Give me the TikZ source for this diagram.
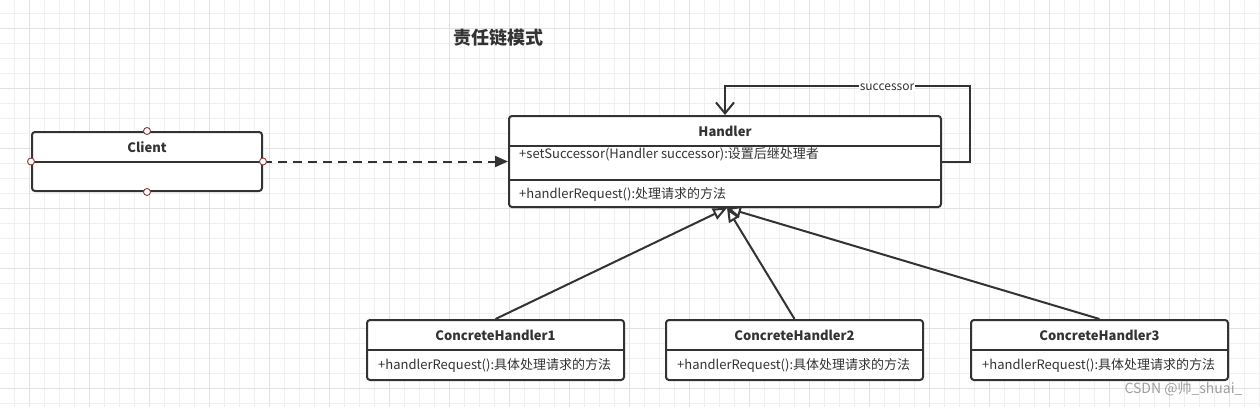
\documentclass[tikz,border=0pt]{standalone}
\usepackage{fontspec}
\setmainfont{Noto Sans CJK SC}
\usetikzlibrary{arrows.meta}
\definecolor{linec}{HTML}{333333}
\definecolor{portc}{HTML}{8B3A3A}
\definecolor{minorc}{HTML}{F0F0F0}
\definecolor{majorc}{HTML}{E2E2E2}

\begin{document}
\begin{tikzpicture}[x = 1pt, y = -1pt,
	box/.style = {draw = linec, line width = 2pt, rounded corners = 3pt, fill = white, inner sep = 0pt},
	title/.style = {text = linec, font = \fontsize{13}{15}\selectfont\bfseries},
	member/.style = {text = linec, font = \fontsize{13}{15}\selectfont, anchor = west, inner sep = 0pt},
	port/.style = {circle, draw = portc, fill = white, line width = 0.9pt, inner sep = 0pt, minimum size = 7pt},
	link/.style = {draw = linec, line width = 2pt}]
	%	grid setup
	
	\def\w{1260}
	\def\h{407}
	\useasboundingbox (0, 0) rectangle (\w, \h);
	\fill[white] (0, 0) rectangle (\w, \h);
	
	%	grid
	\foreach \x in {14.5, 29.5, ..., \w} \draw[minorc, line width = 1pt] (\x, 0) -- (\x, \h);
	\foreach \y in {13.5, 28.5, ..., \h} \draw[minorc, line width = 1pt] (0, \y) -- (\w, \y);
	\foreach \x in {29.5, 89.5, ..., \w} \draw[majorc, line width = 1pt] (\x, 0) -- (\x, \h);
	\foreach \y in {28.5, 88.5, ..., \h} \draw[majorc, line width = 1pt] (0, \y) -- (\w, \y);
	
	\node[text = linec, font = \fontsize{18}{20}\selectfont\bfseries] (pattern) at (498, 38) {责任链模式};
	
	%	client
	\node[box, minimum width = 230, minimum height = 59] (client) at (147, 161.5) {};
	\draw[link] (client.west) -- (client.east);
	\node[title] (clientname) at (147, 147) {Client};
	
	%	handler
	\node[box, minimum width = 432, minimum height = 91] (handler) at (725, 161.5) {};
	\draw[link] (handler.west) ++(0, -15.5) -- ++(432, 0);
	\draw[link] (handler.west) ++(0, 18.5) -- ++(432, 0);
	\node[title] (handlername) at (725, 131) {Handler};
	\node[member] (setsucc) at (519, 154) {+setSuccessor(Handler successor):设置后继处理者};
	\node[member] (handlereq) at (519, 194) {+handlerRequest():处理请求的方法};
	
	%	concrete handlers
	\foreach \i/\cx in {1/495.5, 2/794.5, 3/1099.5}{
		\node[box, minimum width = 257, minimum height = 60] (ch\i) at (\cx, 350) {};
		\draw[link] (ch\i.west) -- (ch\i.east);
		\node[title] (chname\i) at (\cx, 335) {ConcreteHandler\i};
		\node[member] (chreq\i) at (\cx - 117.5, 365) {+handlerRequest():具体处理请求的方法};
		\draw[link, -{Triangle[open, length = 14pt, width = 12pt, fill = white]}] (ch\i.north) -- ([xshift = 2pt]handler.south);
	}
	
	%	successor loop
	\coordinate (loop) at (970, 86);
	\draw[link, -{Straight Barb[length = 11pt, width = 18pt]}] (handler.east) -| (loop) -| (handler.north);
	\node[fill = white, text = linec, inner sep = 1pt, font = \fontsize{12}{14}\selectfont] (succlabel) at (887, 87) {successor};
	
	%	dependency
	\draw[link, dash pattern = on 9pt off 6pt, -{Triangle[length = 13pt, width = 11pt]}] (client.east) -- (handler.west);
	\foreach \a in {north, south, east, west} \node[port] (port-\a) at (client.\a) {};
	
	\node[text = gray!75, font = \fontsize{14}{16}\selectfont, anchor = east] (mark) at (1246, 389) {CSDN @帅\_shuai\_};
\end{tikzpicture}
\end{document}
